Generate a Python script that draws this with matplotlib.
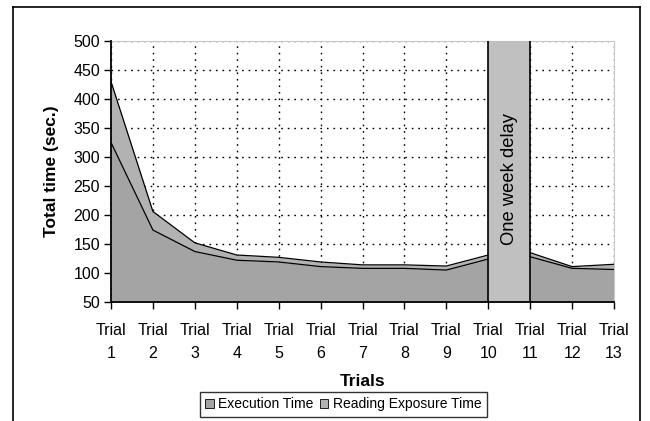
import numpy as np
import matplotlib

matplotlib.use("Agg")
import matplotlib.pyplot as plt
from matplotlib.patches import Patch
from matplotlib.lines import Line2D

plt.rcParams["font.family"] = ["Liberation Sans", "DejaVu Sans"]

trials = list(range(1, 14))
tick_labels = [f"Trial\n{t}" for t in trials]
execution = [325, 174, 137, 122, 119, 111, 108, 108, 105, 124, 128, 108, 106]
total = [430, 206, 152, 131, 127, 119, 114, 114, 112, 131, 135, 111, 115]
reading = [t - e for t, e in zip(total, execution)]
delay_span = (10, 11)
delay_label = "One week delay"

EXEC_C = "#a4a4a4"
READ_C = "#b2b2b2"
BAND_C = "#c0c0c0"

fig = plt.figure(figsize=(6.5, 4.21), dpi=100)
ax = fig.add_axes([0.1708, 0.2827, 0.9446 - 0.1708, 0.9026 - 0.2827])

x = np.array(trials)
ex = np.array(execution)
tot = ex + np.array(reading)
ax.fill_between(x, 50, ex, color=EXEC_C, lw=0, zorder=2)
ax.fill_between(x, ex, tot, color=READ_C, lw=0, zorder=2)
ax.plot(x, ex, color="black", lw=0.9, zorder=3)
ax.plot(x, tot, color="black", lw=0.9, zorder=3)

# one week delay band
ax.axvspan(delay_span[0], delay_span[1], color=BAND_C, zorder=4, lw=0)
ax.axvline(delay_span[0], color="black", lw=1.2, zorder=5)
ax.axvline(delay_span[1], color="black", lw=1.2, zorder=5)
ax.text(sum(delay_span) / 2, 262, delay_label, rotation=90, ha="center",
        va="center", fontsize=13.2, zorder=6)

ax.set_xlim(1, 13)
ax.set_ylim(50, 500)
ax.set_xticks(trials)
ax.set_xticklabels(tick_labels, fontsize=11.5, linespacing=1.7)
ax.set_yticks(range(50, 501, 50))
ax.tick_params(axis="y", labelsize=11.5, direction="out", length=5, width=1, pad=3)
ax.tick_params(axis="x", direction="out", length=5, width=1, pad=10)
ax.grid(True, color="black", ls=(0, (1.2, 3.5)), lw=1.0, zorder=1)
ax.set_axisbelow(True)
for s in ("top", "right"):
    ax.spines[s].set_color("#c8c8c8")
for s in ("left", "bottom"):
    ax.spines[s].set_linewidth(1.3)
    ax.spines[s].set_zorder(7)

ax.set_ylabel("Total time (sec.)", fontsize=12.5, fontweight="bold", labelpad=10)
ax.set_xlabel("Trials", fontsize=12.5, fontweight="bold", labelpad=9)

handles = [
    Patch(facecolor=EXEC_C, edgecolor="black", lw=0.6, label="Execution Time"),
    Patch(facecolor=READ_C, edgecolor="black", lw=0.6, label="Reading Exposure Time"),
]
leg = fig.legend(handles=handles, loc="center", bbox_to_anchor=(0.528, 0.040),
                 ncol=2, fontsize=10, frameon=True, fancybox=False,
                 handlelength=0.6, handleheight=0.6, handletextpad=0.3,
                 columnspacing=0.5, borderpad=0.4, borderaxespad=0)
leg.get_frame().set_edgecolor("black")
leg.get_frame().set_linewidth(1.0)

# outer chart border
for xs, ys in (([0.02, 0.02], [0.0, 0.983]), ([0.02, 0.984], [0.983, 0.983]),
               ([0.984, 0.984], [0.0, 0.983])):
    fig.add_artist(Line2D(xs, ys, transform=fig.transFigure, color="black", lw=1.2))

fig.savefig("out.png", dpi=100)
